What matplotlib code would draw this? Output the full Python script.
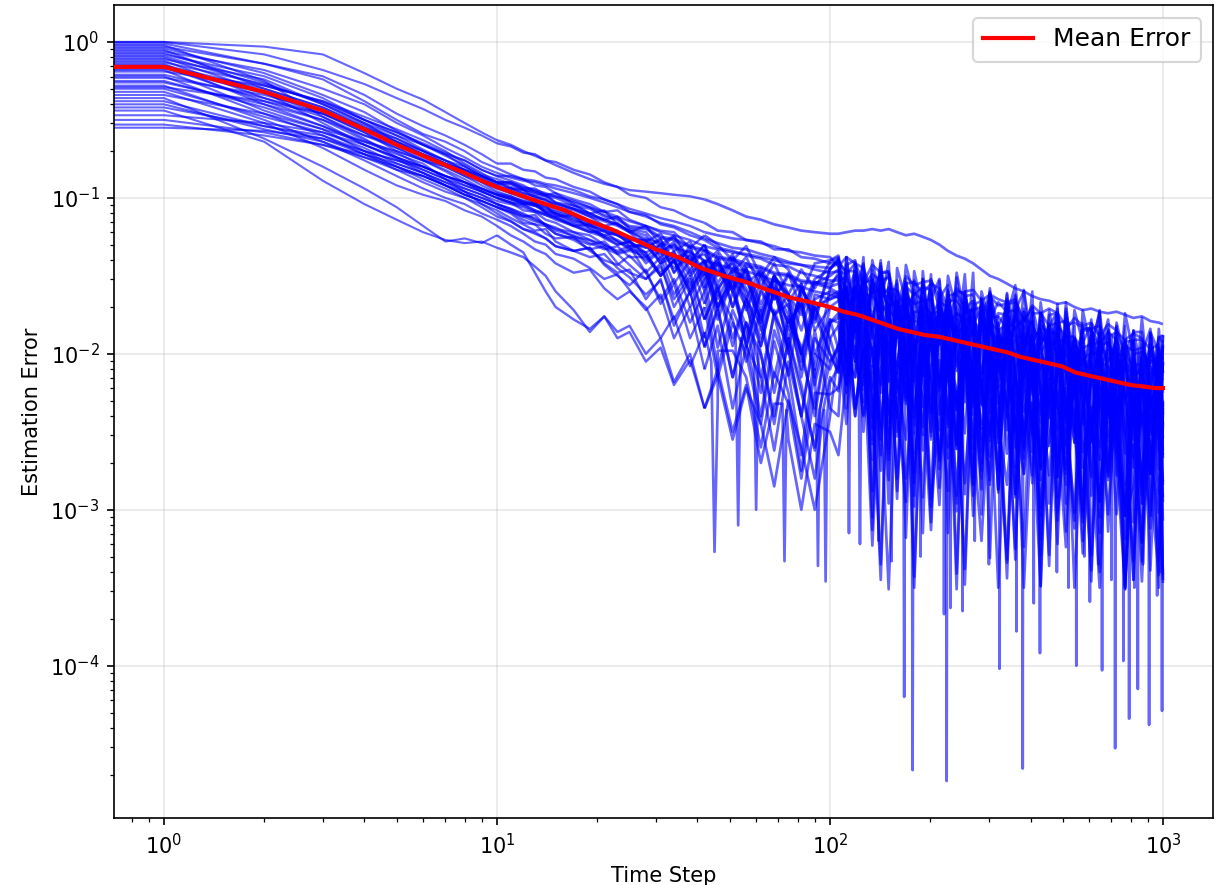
import numpy as np
import matplotlib
matplotlib.use("Agg")
import matplotlib.pyplot as plt

# ---------------- data (error values stored as 100*log10(error)) ----------------
time_steps = [0, 1, 2, 3, 4, 5, 6, 7, 8, 9, 10,
              11, 12, 13, 14, 15, 17, 19, 21, 23, 25, 28, 31, 34, 38, 42, 46, 51, 56, 62, 68, 75, 82, 90, 100,
              106, 112, 119, 126, 134, 142, 150, 159, 169, 179, 190, 201, 213, 226, 240, 254, 269, 285, 302, 320,
              340, 360, 382, 405, 429, 455, 482, 511, 542, 574, 609, 645, 684, 725, 769, 815, 864, 916, 971, 999]

mean_steps = [0, 1, 2, 3, 4, 5, 6, 7, 8, 9, 10, 12, 14, 16, 19, 22, 26, 30, 35, 41, 48, 56, 65, 76, 88, 100,
              110, 121, 133, 146, 160, 176, 193, 212, 233, 256, 281, 309, 340, 374, 411, 452, 497, 546, 600,
              660, 726, 798, 877, 950, 999]
mean_error_log = [-16, -16, -32, -44, -56, -66, -73, -79, -84, -89, -93, -99, -104, -108, -115, -120, -127, -133,
                  -138, -145, -150, -154, -159, -164, -167, -170, -173, -175, -178, -181, -184, -186, -188, -189,
                  -191, -193, -195, -197, -199, -202, -204, -206, -208, -212, -214, -216, -218, -220, -221, -222, -222]

run_01 = [0,0,-3,-8,-20,-30,-37,-45,-52,-58,-63,
          -66,-70,-73,-76,-79,-84,-88,-91,-93,-95,-96,-97,-98,-99,-101,-104,-108,-112,-114,-117,-119,-121,-122,-123,
          -123,-122,-121,-121,-120,-121,-120,-122,-124,-123,-125,-127,-130,-134,-137,-139,-142,-146,-150,-152,-155,-158,-160,-163,-165,-166,-168,-167,-170,-172,-171,-173,-174,-173,-175,-177,-176,-179,-180,-181]
run_02 = [0,0,-8,-18,-27,-36,-43,-50,-55,-60,-65,
          -67,-71,-72,-76,-77,-82,-85,-90,-93,-98,-100,-106,-108,-113,-116,-121,-122,-127,-128,-133,-133,-138,-139,-142,
          -142,-147,-147,-156,-149,-153,-151,-171,-157,-162,-157,-159,-194,-163,-161,-171,-166,-166,-178,-167,-173,-172,-197,-174,-174,-182,-180,-179,-227,-185,-185,-194,-186,-191,-204,-191,-191,-197,-194,-212]
run_03 = [-1,-1,-14,-24,-38,-50,-59,-64,-70,-77,-81,
          -85,-88,-92,-93,-97,-101,-104,-109,-108,-114,-118,-121,-122,-132,-124,-130,-140,-131,-150,-138,-146,-162,-142,-140,
          -137,-163,-190,-149,-183,-140,-251,-166,-200,-153,-182,-238,-166,-190,-296,-163,-181,-220,-158,-207,-179,-260,-171,-200,-244,-181,-292,-173,-204,-233,-199,-172,-271,-199,-222,-345,-192,-252,-211,-188]
run_04 = [-2,-2,-25,-48,-62,-74,-80,-86,-90,-95,-98,
          -101,-104,-103,-110,-112,-111,-120,-124,-122,-131,-130,-142,-138,-160,-142,-170,-150,-196,-158,-175,-214,-165,-200,-178,
          -197,-150,-170,-215,-151,-190,-168,-223,-165,-291,-177,-157,-206,-245,-174,-194,-279,-170,-226,-190,-249,-171,-215,-188,-349,-184,-210,-244,-201,-288,-184,-235,-212,-278,-200,-228,-321,-197,-216,-267]
run_05 = [-3,-3,-14,-22,-34,-46,-54,-60,-66,-72,-78,
          -78,-82,-83,-87,-88,-93,-96,-101,-104,-109,-111,-117,-119,-124,-127,-132,-134,-137,-139,-143,-144,-148,-150,-153,
          -153,-151,-165,-155,-161,-158,-161,-189,-163,-168,-166,-175,-167,-170,-185,-172,-172,-213,-177,-176,-184,-178,-182,-194,-182,-187,-186,-209,-190,-196,-194,-193,-204,-197,-252,-200,-199,-206,-201,-203]
run_06 = [-4,-4,-20,-34,-45,-57,-66,-72,-80,-86,-90,
          -94,-95,-100,-101,-106,-108,-112,-118,-116,-122,-132,-126,-148,-130,-158,-136,-170,-145,-180,-150,-200,-158,-172,-163,
          -160,-200,-141,-194,-153,-265,-173,-153,-215,-166,-192,-308,-161,-175,-231,-160,-254,-189,-170,-217,-161,-210,-277,-185,-202,-241,-176,-314,-190,-225,-178,-260,-206,-191,-284,-201,-246,-187,-222,-307]
run_07 = [-5,-5,-30,-42,-55,-62,-70,-78,-83,-87,-92,
          -97,-100,-104,-105,-111,-116,-119,-126,-130,-128,-136,-150,-140,-170,-152,-196,-160,-182,-225,-172,-198,-240,-190,-205,
          -195,-163,-147,-194,-258,-164,-179,-238,-162,-211,-292,-174,-194,-170,-256,-187,-232,-169,-331,-186,-201,-250,-183,-216,-274,-182,-203,-241,-302,-198,-221,-193,-276,-211,-239,-345,-203,-226,-262,-195]
run_08 = [-6,-6,-18,-30,-40,-52,-60,-68,-74,-80,-84,
          -87,-89,-90,-92,-94,-97,-100,-103,-106,-109,-112,-116,-118,-122,-126,-129,-132,-133,-136,-138,-141,-143,-146,-148,
          -147,-149,-185,-154,-153,-163,-158,-159,-172,-161,-166,-165,-189,-166,-166,-174,-172,-170,-216,-174,-175,-184,-177,-181,-194,-182,-182,-189,-189,-208,-189,-194,-193,-203,-195,-198,-196,-215,-199,-203]
run_09 = [-7,-7,-26,-40,-52,-60,-69,-76,-82,-90,-96,
          -99,-103,-104,-109,-112,-118,-117,-125,-130,-128,-142,-134,-155,-140,-168,-146,-160,-190,-150,-175,-162,-205,-165,-160,
          -162,-203,-215,-161,-185,-225,-160,-288,-182,-199,-247,-176,-224,-172,-341,-194,-185,-220,-266,-181,-208,-290,-195,-253,-184,-211,-247,-324,-199,-228,-279,-210,-197,-248,-304,-209,-241,-277,-205,-225]
run_10 = [-8,-8,-22,-36,-50,-58,-65,-71,-76,-82,-86,
          -89,-92,-96,-98,-97,-104,-110,-108,-117,-121,-124,-136,-128,-146,-133,-160,-140,-172,-148,-158,-196,-155,-185,-170,
          -172,-205,-157,-181,-288,-155,-173,-213,-152,-201,-172,-253,-163,-192,-236,-173,-284,-164,-193,-222,-189,-162,-262,-189,-212,-336,-183,-244,-206,-184,-184,-210,-256,-196,-229,-185,-296,-210,-242,-194]
run_11 = [-9,-9,-28,-38,-48,-56,-63,-70,-78,-84,-90,
          -90,-93,-95,-97,-99,-102,-106,-109,-112,-115,-118,-122,-124,-127,-131,-133,-135,-136,-138,-140,-142,-143,-144,-145,
          -140,-149,-142,-145,-161,-148,-148,-190,-155,-154,-161,-155,-158,-170,-158,-163,-162,-184,-163,-169,-168,-167,-179,-171,-226,-175,-174,-182,-180,-183,-184,-182,-195,-186,-191,-187,-190,-217,-189,-193]
run_12 = [-10,-10,-32,-52,-66,-75,-84,-92,-96,-100,-104,
          -108,-112,-111,-118,-123,-127,-133,-131,-142,-148,-152,-142,-170,-152,-190,-160,-178,-205,-172,-225,-180,-195,-240,-180,
          -177,-157,-207,-220,-176,-196,-281,-173,-230,-194,-252,-174,-217,-190,-351,-186,-212,-245,-200,-287,-184,-235,-213,-278,-200,-229,-322,-199,-221,-273,-254,-207,-226,-303,-207,-245,-223,-277,-217,-342]
run_13 = [-11,-11,-24,-40,-52,-64,-72,-78,-82,-88,-94,
          -97,-99,-103,-105,-108,-111,-116,-119,-121,-127,-127,-138,-130,-148,-140,-165,-145,-158,-178,-150,-185,-163,-220,-178,
          -180,-235,-150,-164,-221,-150,-244,-180,-162,-209,-152,-201,-267,-175,-192,-231,-166,-303,-177,-212,-166,-248,-195,-179,-272,-190,-235,-177,-215,-301,-205,-268,-185,-239,-197,-308,-216,-195,-255,-205]
run_14 = [-12,-12,-36,-46,-58,-70,-76,-83,-90,-96,-100,
          -103,-108,-109,-114,-116,-122,-124,-130,-134,-131,-148,-138,-162,-146,-178,-156,-190,-165,-215,-175,-195,-240,-185,-235,
          -240,-157,-178,-154,-241,-172,-217,-155,-318,-173,-187,-236,-168,-201,-259,-167,-188,-225,-284,-180,-204,-176,-260,-194,-222,-329,-187,-211,-250,-184,-257,-203,-186,-234,-297,-202,-217,-275,-197,-245]
run_15 = [-13,-13,-27,-39,-50,-60,-66,-73,-79,-85,-88,
          -91,-94,-97,-98,-103,-105,-110,-114,-112,-120,-122,-132,-125,-142,-130,-155,-138,-148,-180,-150,-165,-200,-170,-190,
          -209,-138,-187,-138,-305,-158,-149,-185,-232,-147,-173,-255,-159,-217,-148,-175,-211,-287,-160,-189,-241,-172,-160,-210,-266,-172,-204,-241,-172,-193,-181,-222,-268,-180,-203,-242,-177,-304,-196,-212]
run_16 = [-14,-14,-40,-54,-64,-72,-78,-88,-96,-104,-108,
          -113,-117,-121,-120,-128,-134,-132,-142,-148,-146,-165,-152,-182,-160,-196,-172,-215,-180,-200,-245,-190,-225,-260,-190,
          -182,-225,-174,-203,-248,-185,-296,-177,-207,-236,-202,-175,-274,-201,-224,-348,-195,-255,-215,-193,-194,-220,-267,-206,-239,-196,-307,-222,-257,-210,-239,-295,-223,-248,-350,-220,-238,-277,-214,-262]
run_17 = [-15,-15,-30,-42,-53,-62,-70,-76,-80,-86,-91,
          -91,-95,-96,-99,-100,-105,-107,-112,-114,-119,-120,-126,-127,-132,-134,-139,-140,-144,-145,-149,-150,-154,-155,-158,
          -161,-160,-185,-162,-163,-171,-169,-168,-215,-173,-173,-182,-174,-178,-191,-179,-179,-185,-183,-202,-184,-189,-189,-198,-190,-194,-192,-212,-199,-204,-199,-201,-236,-206,-204,-213,-208,-208,-219,-207]
run_18 = [-16,-16,-38,-50,-63,-71,-80,-86,-92,-96,-100,
          -103,-104,-108,-111,-113,-118,-122,-121,-128,-133,-128,-142,-134,-156,-140,-170,-148,-160,-195,-158,-175,-210,-170,-200,
          -212,-138,-178,-151,-313,-148,-174,-208,-164,-251,-147,-198,-175,-240,-162,-191,-284,-160,-180,-232,-214,-167,-187,-263,-167,-206,-184,-239,-182,-308,-194,-174,-223,-263,-192,-211,-296,-187,-242,-205]
run_19 = [-17,-17,-33,-46,-58,-68,-75,-80,-86,-92,-97,
          -99,-102,-105,-106,-110,-113,-118,-120,-124,-129,-132,-127,-140,-133,-148,-140,-158,-142,-150,-165,-148,-172,-152,-146,
          -139,-188,-215,-163,-181,-220,-155,-293,-168,-203,-156,-238,-184,-168,-261,-179,-224,-165,-201,-287,-192,-255,-173,-226,-184,-296,-204,-184,-247,-198,-224,-340,-193,-208,-264,-192,-286,-221,-201,-247]
run_20 = [-18,-18,-44,-56,-70,-80,-86,-92,-98,-102,-106,
          -110,-116,-117,-123,-126,-125,-134,-140,-143,-137,-148,-165,-152,-180,-160,-210,-172,-192,-240,-185,-212,-265,-200,-210,
          -194,-220,-176,-209,-268,-176,-197,-235,-295,-191,-214,-186,-269,-203,-231,-338,-196,-219,-256,-190,-264,-210,-194,-241,-304,-210,-225,-284,-209,-258,-339,-221,-241,-218,-304,-234,-279,-216,-350,-231]
run_21 = [-19,-19,-28,-38,-50,-58,-66,-72,-76,-82,-86,
          -86,-88,-89,-91,-92,-95,-99,-101,-104,-107,-110,-113,-115,-118,-122,-124,-126,-127,-129,-131,-134,-135,-137,-138,
          -144,-138,-142,-154,-143,-148,-147,-170,-150,-156,-154,-153,-164,-156,-211,-160,-159,-166,-162,-165,-167,-165,-179,-169,-174,-171,-174,-202,-177,-182,-180,-189,-181,-185,-200,-186,-186,-227,-190,-188]
run_22 = [-21,-21,-36,-48,-60,-68,-76,-82,-88,-94,-98,
          -100,-104,-105,-109,-110,-115,-117,-122,-124,-127,-138,-130,-148,-136,-160,-142,-170,-150,-185,-156,-170,-200,-162,-165,
          -163,-210,-150,-208,-140,-167,-203,-280,-154,-183,-234,-165,-152,-202,-258,-164,-196,-232,-161,-182,-171,-212,-259,-170,-193,-233,-168,-296,-191,-208,-256,-185,-233,-182,-351,-203,-194,-229,-274,-188]
run_23 = [-22,-22,-46,-60,-72,-82,-90,-96,-100,-104,-110,
          -115,-120,-122,-126,-131,-134,-132,-143,-150,-156,-146,-168,-155,-190,-170,-215,-180,-200,-245,-192,-225,-275,-210,-205,
          -197,-170,-235,-197,-221,-345,-192,-253,-214,-192,-192,-218,-264,-203,-236,-193,-304,-218,-251,-204,-234,-290,-219,-243,-349,-216,-234,-274,-214,-263,-234,-315,-225,-255,-299,-235,-346,-226,-254,-282]
run_24 = [-23,-23,-34,-44,-54,-64,-72,-78,-84,-88,-92,
          -94,-97,-99,-101,-104,-107,-111,-114,-117,-121,-128,-123,-134,-128,-142,-134,-148,-138,-157,-142,-162,-146,-158,-141,
          -138,-180,-158,-223,-146,-175,-268,-145,-166,-218,-199,-152,-171,-247,-151,-190,-168,-222,-163,-289,-176,-156,-206,-245,-174,-194,-279,-171,-229,-193,-251,-173,-216,-190,-351,-185,-211,-244,-198,-284]
run_25 = [-25,-25,-42,-54,-66,-74,-82,-88,-94,-98,-104,
          -107,-111,-113,-117,-120,-122,-127,-130,-135,-133,-135,-150,-140,-160,-145,-178,-152,-170,-195,-160,-180,-168,-210,-158,
          -148,-205,-177,-161,-255,-173,-218,-160,-197,-283,-187,-250,-167,-220,-178,-290,-198,-177,-238,-189,-216,-332,-186,-200,-256,-185,-279,-215,-198,-245,-188,-237,-303,-212,-229,-267,-202,-339,-212,-246]
run_26 = [-26,-26,-40,-50,-60,-66,-72,-78,-82,-86,-90,
          -90,-94,-94,-98,-99,-103,-106,-111,-113,-118,-119,-125,-126,-131,-133,-138,-139,-142,-144,-148,-149,-153,-154,-157,
          -155,-164,-157,-161,-175,-163,-163,-170,-169,-188,-169,-174,-173,-182,-174,-178,-176,-195,-180,-185,-181,-183,-219,-188,-186,-196,-191,-192,-206,-195,-200,-199,-223,-201,-201,-208,-206,-204,-249,-206]
run_27 = [-28,-28,-50,-64,-76,-86,-94,-100,-104,-110,-114,
          -118,-123,-128,-130,-136,-139,-145,-152,-149,-159,-172,-162,-190,-170,-210,-182,-235,-195,-215,-262,-205,-240,-280,-218,
          -209,-181,-235,-199,-228,-335,-193,-217,-255,-189,-262,-208,-191,-238,-301,-207,-222,-280,-203,-252,-334,-216,-237,-213,-299,-230,-275,-213,-350,-232,-246,-295,-227,-261,-319,-226,-247,-284,-342,-237]
run_28 = [-29,-29,-38,-46,-56,-64,-70,-76,-82,-86,-90,
          -93,-95,-98,-99,-103,-107,-110,-114,-117,-122,-118,-130,-124,-140,-130,-150,-136,-165,-145,-160,-190,-158,-175,-200,
          -212,-143,-140,-181,-238,-144,-176,-213,-143,-164,-152,-193,-239,-150,-173,-213,-148,-275,-168,-185,-234,-163,-212,-160,-329,-182,-173,-209,-257,-172,-198,-280,-184,-243,-174,-200,-236,-312,-184,-212]
run_29 = [-30,-30,-48,-58,-68,-78,-84,-90,-94,-98,-102,
          -104,-106,-109,-111,-114,-118,-122,-125,-128,-132,-140,-133,-145,-137,-152,-142,-160,-146,-172,-150,-166,-155,-180,-146,
          -139,-215,-165,-198,-152,-182,-238,-167,-192,-298,-164,-182,-221,-159,-208,-180,-261,-171,-200,-244,-181,-292,-173,-202,-231,-198,-171,-271,-200,-223,-346,-193,-253,-214,-192,-192,-218,-264,-202,-234]
run_30 = [-32,-32,-52,-68,-82,-92,-98,-102,-108,-112,-118,
          -124,-128,-133,-136,-142,-148,-146,-158,-165,-160,-170,-190,-176,-208,-186,-232,-198,-215,-260,-212,-232,-280,-225,-226,
          -222,-200,-240,-196,-323,-210,-190,-240,-280,-209,-228,-313,-204,-260,-224,-283,-205,-248,-221,-350,-217,-243,-277,-232,-319,-216,-267,-245,-312,-234,-262,-350,-231,-252,-304,-285,-238,-257,-332,-235]
run_31 = [-34,-34,-46,-56,-64,-70,-76,-80,-86,-90,-94,
          -94,-97,-99,-102,-104,-107,-112,-115,-118,-122,-126,-129,-132,-135,-140,-143,-145,-147,-150,-153,-156,-157,-160,-162,
          -164,-163,-175,-167,-223,-172,-171,-179,-176,-179,-180,-178,-191,-181,-186,-183,-186,-213,-186,-191,-190,-199,-192,-195,-210,-197,-197,-239,-205,-204,-211,-205,-208,-221,-209,-213,-212,-234,-212,-217]
run_32 = [-36,-36,-62,-80,-94,-106,-118,-128,-126,-129,-124,
          -130,-135,-148,-160,-170,-178,-184,-176,-186,-182,-200,-190,-218,-200,-235,-210,-250,-220,-270,-232,-255,-300,-245,-250,
          -265,-215,-195,-240,-208,-235,-351,-205,-220,-276,-204,-298,-233,-214,-261,-205,-254,-320,-228,-245,-284,-219,-350,-231,-266,-220,-302,-249,-235,-328,-245,-290,-231,-268,-350,-258,-321,-238,-290,-247]
run_33 = [-38,-38,-54,-60,-70,-76,-82,-88,-92,-96,-100,
          -103,-105,-108,-110,-113,-117,-121,-124,-127,-131,-131,-140,-135,-150,-140,-158,-146,-152,-175,-152,-162,-185,-155,-150,
          -146,-161,-205,-143,-193,-275,-157,-178,-155,-241,-171,-216,-153,-315,-170,-185,-234,-166,-199,-257,-165,-186,-224,-283,-179,-203,-175,-259,-195,-223,-329,-187,-210,-248,-182,-255,-201,-184,-230,-292]
run_34 = [-40,-40,-56,-64,-74,-80,-88,-94,-100,-106,-112,
          -115,-120,-123,-126,-131,-134,-138,-136,-145,-151,-162,-153,-178,-160,-195,-170,-215,-180,-200,-240,-190,-220,-262,-215,
          -224,-159,-240,-180,-198,-247,-176,-225,-174,-343,-195,-186,-221,-267,-182,-209,-291,-195,-253,-184,-211,-247,-324,-197,-226,-278,-209,-197,-249,-305,-209,-242,-278,-208,-229,-217,-258,-304,-214,-236]
run_35 = [-42,-42,-54,-62,-72,-80,-86,-92,-98,-102,-106,
          -109,-112,-115,-117,-121,-124,-129,-133,-131,-138,-138,-150,-140,-162,-148,-172,-155,-195,-160,-175,-168,-215,-170,-165,
          -162,-180,-205,-158,-208,-180,-261,-172,-202,-246,-182,-293,-173,-202,-231,-198,-171,-270,-197,-220,-344,-191,-252,-212,-190,-191,-217,-264,-205,-238,-194,-305,-219,-253,-206,-235,-291,-219,-242,-347]
run_36 = [-44,-44,-64,-89,-104,-114,-122,-127,-129,-128,-132,
          -135,-138,-144,-150,-160,-172,-186,-176,-190,-186,-205,-196,-220,-204,-235,-214,-255,-222,-245,-285,-230,-260,-300,-240,
          -198,-245,-175,-231,-196,-255,-177,-221,-195,-350,-190,-216,-249,-204,-291,-188,-239,-216,-281,-203,-232,-325,-202,-222,-274,-256,-209,-229,-307,-211,-249,-227,-281,-223,-349,-235,-215,-264,-302,-230]
run_37 = [-47,-47,-52,-58,-66,-74,-80,-86,-90,-94,-98,
          -100,-102,-104,-107,-109,-112,-116,-119,-123,-126,-127,-134,-130,-140,-136,-148,-142,-155,-147,-165,-150,-158,-178,-145,
          -142,-200,-161,-142,-190,-142,-183,-250,-159,-176,-214,-149,-286,-160,-195,-149,-231,-177,-161,-254,-172,-217,-159,-195,-281,-186,-249,-167,-222,-180,-291,-199,-178,-240,-191,-217,-333,-186,-199,-254]
run_38 = [-50,-50,-58,-66,-74,-82,-86,-92,-98,-102,-106,
          -109,-114,-117,-118,-123,-126,-130,-128,-136,-143,-152,-144,-165,-150,-178,-158,-195,-165,-182,-215,-176,-200,-235,-180,
          -174,-219,-157,-250,-175,-190,-239,-172,-206,-264,-171,-192,-229,-288,-184,-208,-180,-263,-197,-225,-332,-190,-214,-251,-185,-259,-205,-189,-238,-301,-206,-221,-279,-203,-252,-333,-215,-235,-210,-295]
run_39 = [-53,-53,-60,-66,-72,-78,-84,-90,-96,-100,-104,
          -107,-110,-114,-117,-119,-125,-127,-132,-136,-134,-137,-148,-140,-158,-145,-170,-152,-165,-190,-160,-180,-168,-215,-170,
          -166,-157,-193,-239,-155,-182,-264,-169,-228,-159,-185,-221,-297,-170,-199,-251,-182,-169,-219,-275,-181,-213,-250,-179,-200,-189,-230,-277,-190,-213,-252,-187,-314,-208,-225,-273,-202,-250,-197,-345]
run_40 = [-55,-55,-57,-62,-70,-76,-80,-86,-90,-94,-98,
          -101,-103,-105,-108,-110,-114,-118,-121,-124,-128,-135,-130,-142,-134,-150,-140,-158,-145,-168,-150,-162,-175,-154,-155,
          -150,-220,-142,-171,-201,-168,-141,-241,-169,-192,-315,-162,-222,-182,-160,-161,-187,-233,-172,-205,-162,-273,-188,-221,-174,-204,-260,-189,-215,-320,-186,-205,-244,-183,-232,-203,-284,-194,-222,-265]

runs = [run_01, run_02, run_03, run_04, run_05, run_06, run_07, run_08, run_09, run_10,
        run_11, run_12, run_13, run_14, run_15, run_16, run_17, run_18, run_19, run_20,
        run_21, run_22, run_23, run_24, run_25, run_26, run_27, run_28, run_29, run_30,
        run_31, run_32, run_33, run_34, run_35, run_36, run_37, run_38, run_39, run_40]

# narrow downward spikes: which run, three time steps, three values
spike_run = [30, 32, 23, 27, 20, 16, 34, 9, 13, 25, 36, 7, 14, 19, 12, 29, 6, 35, 4, 18, 10, 24, 33, 22, 15, 3,
             4, 35, 28, 2, 5, 8, 21, 26, 31, 11, 17, 28, 26, 5, 12, 34]
spike_times = [[44, 45, 46], [72, 73, 74], [91, 92, 93], [96, 97, 98], [122, 123, 124], [152, 153, 154],
               [166, 167, 168], [176, 177, 178], [219, 220, 221], [223, 224, 225], [229, 230, 231], [249, 250, 251],
               [322, 323, 324], [362, 363, 364], [378, 379, 380], [408, 409, 410], [426, 427, 428], [548, 549, 550],
               [602, 603, 604], [655, 656, 657], [717, 718, 719], [759, 760, 761], [790, 791, 792], [839, 840, 841],
               [907, 908, 909], [992, 993, 994], [113, 114, 115], [139, 140, 141], [186, 187, 188], [271, 272, 273],
               [299, 300, 301], [479, 480, 481], [519, 520, 521], [579, 580, 581], [639, 640, 641], [699, 700, 701],
               [819, 820, 821], [869, 870, 871], [959, 960, 961], [979, 980, 981], [52, 53, 54], [59, 60, 61]]
spike_values = [[-205, -327, -198], [-232, -333, -236], [-238, -336, -236], [-236, -346, -240], [-220, -322, -225],
                [-230, -333, -225], [-215, -420, -218], [-212, -467, -215], [-195, -367, -198], [-210, -474, -215],
                [-224, -363, -226], [-208, -365, -210], [-220, -402, -225], [-225, -378, -218], [-226, -466, -230],
                [-235, -360, -240], [-240, -392, -235], [-262, -400, -258], [-226, -359, -230], [-218, -403, -215],
                [-220, -453, -218], [-215, -397, -220], [-240, -434, -245], [-225, -415, -230], [-222, -438, -226],
                [-212, -429, -209], [-195, -315, -200], [-196, -320, -199], [-178, -330, -180], [-169, -320, -168],
                [-190, -335, -187], [-190, -340, -186], [-180, -350, -182], [-205, -330, -210], [-214, -335, -212],
                [-188, -345, -188], [-210, -350, -215], [-212, -335, -210], [-204, -355, -205], [-208, -340, -207],
                [-185, -310, -190], [-194, -300, -192]]

# ---------------- figure ----------------
W, H, DPI = 1219, 885, 150
fig = plt.figure(figsize=(W / DPI, H / DPI), dpi=DPI)
ax = fig.add_axes([114 / W, 1 - 818 / H, (1213 - 114) / W, (818 - 5) / H])
ax.set_xscale('log')
ax.set_yscale('log')

# stroke width per time range (denser, many-run regions are drawn slightly heavier);
# range limits are sampled time steps so consecutive pieces join
segments = [(0, 10, 1.0), (10, 42, 1.15), (42, 1000, 1.3)]
for k, vals in enumerate(runs, start=1):
    n = min(len(vals), len(time_steps))
    if len(vals) != len(time_steps):
        print(f"warning: run {k} has {len(vals)} values")
    ts = list(time_steps[:n])
    vs = list(vals[:n])
    for r, st, sv in zip(spike_run, spike_times, spike_values):
        if r == k:
            ts += st
            vs += sv
    order = np.argsort(ts, kind='stable')
    t = np.asarray(ts, dtype=float)[order]
    y = 10.0 ** (np.asarray(vs, dtype=float)[order] / 100.0)
    for lo, hi, lw in segments:
        sel = (t >= lo) & (t <= hi)
        ax.plot(t[sel], y[sel], color='blue', alpha=0.6, linewidth=lw, solid_capstyle='butt')

ax.plot(np.asarray(mean_steps, dtype=float), 10.0 ** (np.asarray(mean_error_log) / 100.0),
        color='red', linewidth=2.0, label='Mean Error', zorder=5)

ax.set_xlim(10 ** -0.15, 10 ** 3.15)
ax.set_ylim(10 ** -4.977, 10 ** 0.237)
ax.grid(True, which='major', alpha=0.3)
ax.set_xlabel('Time Step', fontsize=10)
ax.set_ylabel('Estimation Error', fontsize=10)
ax.legend(loc='upper right', fontsize=12)

fig.savefig('out.png', dpi=DPI)
